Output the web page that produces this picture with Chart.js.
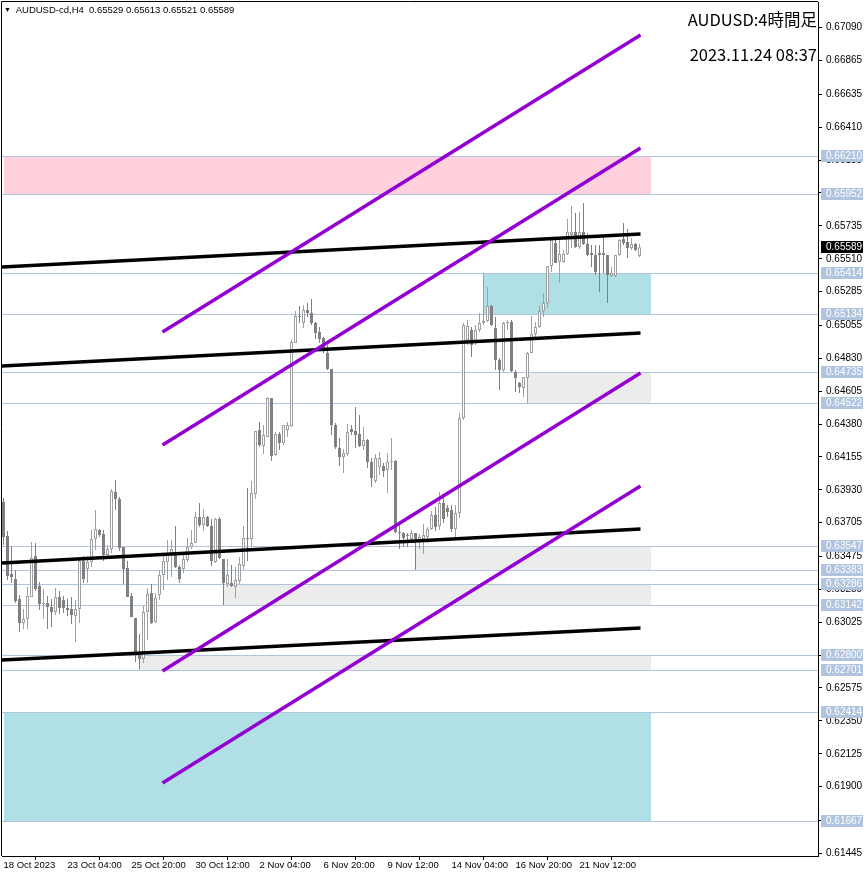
<!DOCTYPE html>
<html>
<head>
<meta charset="utf-8">
<script src="https://cdn.jsdelivr.net/npm/chart.js@4.4.0/dist/chart.umd.min.js"></script>
<style>
  body { margin: 0; background: #fff; }
  #wrap { position: relative; width: 866px; height: 876px; }
  canvas { position: absolute; left: 0; top: 0; }
  .info { position: absolute; left: 4px; top: 4px; font: 9.5px "Liberation Sans", Arial, sans-serif; color: #000; white-space: pre; line-height: 12px; }
  .info span { font-size: 7px; vertical-align: 1px; }
  .title { position: absolute; right: 49px; font: 16.5px "Noto Sans CJK JP", "Noto Sans", sans-serif; color: #000; white-space: nowrap; line-height: 20px; }
</style>
</head>
<body>
<div id="wrap">
  <canvas id="chart" width="866" height="876"></canvas>
  <div class="info"><span>▼</span>  AUDUSD-cd,H4  0.65529 0.65613 0.65521 0.65589</div>
  <div class="title" style="top:9px">AUDUSD:4時間足</div>
  <div class="title" style="top:44px">2023.11.24 08:37</div>
</div>
<script>
// H4 candles, oldest first
const opens = [
  0.63847,0.63614,0.63354,0.63320,0.63184,0.63019,0.63047,0.63197,0.63478,0.63272,
  0.63149,0.63156,0.63129,0.63095,0.63197,0.63177,0.63122,0.63115,0.63067,0.63115,
  0.63443,0.63389,0.63436,0.63594,0.63655,0.63628,0.63484,0.63525,0.63915,0.63867,
  0.63539,0.63395,0.63204,0.63054,0.62814,0.62773,0.63095,0.63225,0.63026,0.63211,
  0.63348,0.63436,0.63484,0.63484,0.63402,0.63389,0.63450,0.63539,0.63566,0.63744,
  0.63689,0.63744,0.63683,0.63436,0.63731,0.63457,0.63286,0.63293,0.63266,0.63307,
  0.63409,0.63601,0.63594,0.63901,0.64339,0.64230,0.64291,0.64558,0.64168,0.64312,
  0.64250,0.64339,0.64366,0.64934,0.65119,0.65071,0.65160,0.65139,0.65071,0.65009,
  0.64968,0.64866,0.64756,0.64373,0.64216,0.64154,0.64175,0.64346,0.64332,0.64312,
  0.64230,0.64271,0.64120,0.63990,0.64086,0.64093,0.64066,0.64120,0.64127,0.63642,
  0.63635,0.63621,0.63594,0.63635,0.63587,0.63594,0.63607,0.63662,0.63758,0.63683,
  0.63840,0.63806,0.63792,0.63662,0.63772,0.64421,0.64955,0.65023,0.64934,0.65023,
  0.65071,0.65084,0.65187,0.65037,0.64818,0.64749,0.65071,0.65078,0.64736,0.64661,
  0.64626,0.64695,0.64866,0.64996,0.65043,0.65153,0.65208,0.65461,0.65618,0.65488,
  0.65488,0.65543,0.65673,0.65693,0.65590,0.65693,0.65611,0.65549,0.65536,0.65549,
  0.65549,0.65536,0.65392,0.65392,0.65536,0.65645,0.65625,0.65584,0.65611,0.65529
];
const highs = [
  0.63874,0.63649,0.63546,0.63382,0.63211,0.63115,0.63266,0.63573,0.63566,0.63300,
  0.63252,0.63204,0.63184,0.63259,0.63238,0.63204,0.63184,0.63197,0.63177,0.63450,
  0.63478,0.63478,0.63655,0.63792,0.63662,0.63655,0.63553,0.63936,0.63997,0.63881,
  0.63539,0.63443,0.63225,0.63054,0.62944,0.63136,0.63259,0.63286,0.63225,0.63382,
  0.63491,0.63587,0.63587,0.63683,0.63416,0.63498,0.63601,0.63655,0.63778,0.63840,
  0.63799,0.63751,0.63731,0.63737,0.63744,0.63457,0.63457,0.63416,0.63402,0.63471,
  0.63683,0.63943,0.63990,0.64332,0.64394,0.64373,0.64565,0.64558,0.64325,0.64325,
  0.64373,0.64394,0.64955,0.65153,0.65187,0.65194,0.65208,0.65235,0.65078,0.65043,
  0.64975,0.64920,0.64756,0.64387,0.64284,0.64209,0.64380,0.64373,0.64496,0.64442,
  0.64360,0.64278,0.64148,0.64175,0.64189,0.64113,0.64182,0.64284,0.64134,0.63703,
  0.63642,0.63635,0.63655,0.63635,0.63628,0.63696,0.63676,0.63785,0.63813,0.63915,
  0.63881,0.63826,0.63826,0.63826,0.64455,0.65071,0.65091,0.65043,0.65057,0.65139,
  0.65414,0.65317,0.65194,0.65112,0.64831,0.65078,0.65091,0.65091,0.64749,0.64667,
  0.64701,0.64872,0.65119,0.65078,0.65187,0.65276,0.65461,0.65638,0.65638,0.65652,
  0.65570,0.65782,0.65871,0.65823,0.65830,0.65891,0.65686,0.65604,0.65604,0.65604,
  0.65672,0.65536,0.65454,0.65536,0.65645,0.65755,0.65714,0.65652,0.65618,0.65613
];
const lows = [
  0.63553,0.63313,0.63293,0.63156,0.62958,0.62978,0.62978,0.63197,0.63238,0.63108,
  0.63047,0.62978,0.62992,0.63074,0.63081,0.63088,0.63067,0.63012,0.62889,0.63019,
  0.63293,0.63293,0.63402,0.63519,0.63607,0.63443,0.63464,0.63498,0.63792,0.63512,
  0.63286,0.63197,0.63060,0.62753,0.62701,0.62746,0.62903,0.63012,0.63019,0.63177,
  0.63245,0.63313,0.63334,0.63395,0.63293,0.63361,0.63436,0.63525,0.63566,0.63676,
  0.63649,0.63676,0.63409,0.63430,0.63457,0.63142,0.63266,0.63266,0.63190,0.63286,
  0.63382,0.63443,0.63539,0.63867,0.64223,0.64175,0.64291,0.64127,0.64161,0.64202,
  0.64237,0.64291,0.64360,0.64934,0.65071,0.65037,0.65112,0.65057,0.64961,0.64934,
  0.64866,0.64749,0.64305,0.64209,0.64093,0.64045,0.64161,0.64305,0.64216,0.64223,
  0.64202,0.64079,0.63949,0.63977,0.64031,0.64018,0.63908,0.64066,0.63635,0.63525,
  0.63539,0.63539,0.63580,0.63383,0.63525,0.63491,0.63566,0.63655,0.63649,0.63655,
  0.63703,0.63744,0.63642,0.63607,0.63737,0.64407,0.64920,0.64838,0.64920,0.65009,
  0.65057,0.65078,0.65050,0.64749,0.64613,0.64736,0.65023,0.64736,0.64599,0.64592,
  0.64565,0.64522,0.64866,0.64975,0.65037,0.65112,0.65173,0.65419,0.65481,0.65344,
  0.65481,0.65536,0.65584,0.65584,0.65577,0.65604,0.65529,0.65454,0.65399,0.65283,
  0.65413,0.65208,0.65385,0.65385,0.65529,0.65604,0.65515,0.65570,0.65563,0.65521
];
const closes = [
  0.63607,0.63341,0.63334,0.63170,0.63019,0.63047,0.63204,0.63464,0.63252,0.63149,
  0.63156,0.63129,0.63095,0.63197,0.63122,0.63122,0.63108,0.63074,0.63115,0.63443,
  0.63320,0.63436,0.63594,0.63662,0.63621,0.63484,0.63525,0.63922,0.63867,0.63532,
  0.63389,0.63197,0.63060,0.62814,0.62773,0.63095,0.63218,0.63019,0.63190,0.63348,
  0.63443,0.63484,0.63525,0.63402,0.63320,0.63457,0.63539,0.63566,0.63744,0.63689,
  0.63744,0.63683,0.63443,0.63731,0.63464,0.63293,0.63348,0.63272,0.63313,0.63423,
  0.63601,0.63594,0.63908,0.64332,0.64237,0.64305,0.64558,0.64161,0.64312,0.64250,
  0.64373,0.64373,0.64941,0.65119,0.65112,0.65160,0.65139,0.65071,0.65002,0.64961,
  0.64886,0.64756,0.64373,0.64223,0.64154,0.64182,0.64325,0.64325,0.64305,0.64230,
  0.64271,0.64120,0.64011,0.64148,0.64148,0.64059,0.64120,0.64127,0.63642,0.63635,
  0.63601,0.63614,0.63635,0.63594,0.63607,0.63621,0.63662,0.63758,0.63676,0.63840,
  0.63731,0.63778,0.63662,0.63772,0.64421,0.65057,0.65050,0.64920,0.65023,0.65071,
  0.65084,0.65187,0.65057,0.64818,0.64749,0.65071,0.65078,0.64743,0.64695,0.64633,
  0.64701,0.64866,0.64996,0.65043,0.65153,0.65208,0.65461,0.65638,0.65481,0.65543,
  0.65543,0.65693,0.65693,0.65590,0.65693,0.65611,0.65536,0.65536,0.65419,0.65536,
  0.65536,0.65399,0.65413,0.65536,0.65638,0.65618,0.65584,0.65611,0.65570,0.65589
];

// time axis: one label every 16 bars
const xTickIdx = [0, 16, 32, 48, 64, 80, 96, 112, 128, 144];
const xTickLabels = ['18 Oct 2023', '23 Oct 04:00', '25 Oct 20:00', '30 Oct 12:00', '2 Nov 04:00',
  '6 Nov 20:00', '9 Nov 12:00', '14 Nov 04:00', '16 Nov 20:00', '21 Nov 12:00'];

// price axis
const yTicks = [0.67090, 0.66865, 0.66635, 0.66410, 0.66185, 0.65960, 0.65735, 0.65510, 0.65285,
  0.65055, 0.64830, 0.64605, 0.64380, 0.64155, 0.63930, 0.63705, 0.63475, 0.63250, 0.63025,
  0.62800, 0.62575, 0.62350, 0.62125, 0.61900, 0.61670, 0.61445];

// horizontal levels with price tags
const levels = [0.66210, 0.65952, 0.65414, 0.65134, 0.64735, 0.64522, 0.63547, 0.63383,
  0.63286, 0.63142, 0.62800, 0.62701, 0.62414, 0.61667];
const lastPrice = 0.65589;

// rectangles (bar index from/to, price low/high)
const zoneFrom = [0, 120, 131, 103, 55, 34, 0];
const zoneTo   = [161.75, 161.75, 161.75, 161.75, 161.75, 161.75, 161.75];
const zoneLow  = [0.65952, 0.65134, 0.64522, 0.63383, 0.63142, 0.62701, 0.61667];
const zoneHigh = [0.66210, 0.65414, 0.64735, 0.63547, 0.63286, 0.62800, 0.62414];
const zoneKind = ['pink', 'cyan', 'gray', 'gray', 'gray', 'gray', 'cyan'];

// channel lines (purple) and trend lines (black)
const purpleFrom = 39.75, purpleTo = 159.25;
const purpleStart = [0.65009, 0.64237, 0.62691, 0.61926];
const purpleEnd   = [0.67040, 0.66267, 0.64729, 0.63956];
const blackFrom = -0.375, blackTo = 159.25;
const blackStart = [0.65454, 0.64777, 0.63430, 0.62767];
const blackEnd   = [0.65679, 0.65002, 0.63662, 0.62985];

const UP_LINE = '#a0a0a0';
const DOWN_FILL = '#808080';
const LEVEL_COLOR = '#b0c4de';
const zoneColors = { pink: '#ffd1dc', cyan: '#b0e0e6', gray: '#ececec' };
const FONT = '"Liberation Sans", Arial, sans-serif';

const isUp = i => closes[i] >= opens[i];

const trendSets = [];
purpleStart.forEach((v, k) => trendSets.push({
  type: 'line', data: [{ x: purpleFrom, y: v }, { x: purpleTo, y: purpleEnd[k] }],
  borderColor: '#9400d3', borderWidth: 3.5, pointRadius: 0, fill: false, order: 0
}));
blackStart.forEach((v, k) => trendSets.push({
  type: 'line', data: [{ x: blackFrom, y: v }, { x: blackTo, y: blackEnd[k] }],
  borderColor: '#000', borderWidth: 3.5, pointRadius: 0, fill: false, order: 0
}));

const overlay = {
  id: 'overlay',
  beforeDatasetsDraw(chart) {
    const { ctx, chartArea: a, scales: { x, y } } = chart;
    ctx.save();
    ctx.beginPath();
    ctx.rect(a.left, a.top, a.right - a.left, a.bottom - a.top);
    ctx.clip();
    zoneHigh.forEach((hi, k) => {
      const x0 = Math.round(x.getPixelForValue(zoneFrom[k]));
      const x1 = Math.round(x.getPixelForValue(zoneTo[k]));
      const y0 = Math.round(y.getPixelForValue(hi));
      const y1 = Math.round(y.getPixelForValue(zoneLow[k]));
      ctx.fillStyle = zoneColors[zoneKind[k]];
      ctx.fillRect(x0, y0, x1 - x0, y1 - y0);
    });
    ctx.strokeStyle = LEVEL_COLOR;
    ctx.lineWidth = 1;
    levels.forEach(v => {
      const py = Math.round(y.getPixelForValue(v)) + 0.5;
      ctx.beginPath();
      ctx.moveTo(a.left, py);
      ctx.lineTo(a.right, py);
      ctx.stroke();
    });
    ctx.restore();
  },
  afterDraw(chart) {
    const { ctx, chartArea: a, scales: { y } } = chart;
    ctx.save();
    ctx.font = '10px ' + FONT;
    ctx.textBaseline = 'middle';
    ctx.textAlign = 'left';
    const tag = (v, bg) => {
      const py = Math.round(y.getPixelForValue(v));
      ctx.fillStyle = bg;
      ctx.fillRect(a.right + 3, py - 6, 42, 12);
      ctx.fillStyle = '#fff';
      ctx.fillText(v.toFixed(5), a.right + 8, py + 0.5);
    };
    levels.forEach(v => tag(v, LEVEL_COLOR));
    tag(lastPrice, '#000');
    // left and top frame
    ctx.strokeStyle = '#000';
    ctx.lineWidth = 1;
    ctx.beginPath();
    ctx.moveTo(a.left - 0.5, a.bottom);
    ctx.lineTo(a.left - 0.5, a.top - 0.5);
    ctx.lineTo(a.right, a.top - 0.5);
    ctx.stroke();
    ctx.restore();
  }
};

const ctx = document.getElementById('chart').getContext('2d');
const chart = new Chart(ctx, {
  type: 'bar',
  data: {
    datasets: [
      {
        label: 'wick',
        data: opens.map((o, i) => ({ x: i, y: [lows[i], highs[i]] })),
        barThickness: 1,
        grouped: false,
        inflateAmount: 0,
        borderWidth: 0,
        backgroundColor: c => isUp(c.dataIndex) ? UP_LINE : DOWN_FILL,
        order: 3
      },
      {
        label: 'body',
        data: opens.map((o, i) => ({ x: i, y: [o, closes[i]] })),
        barThickness: 3,
        grouped: false,
        inflateAmount: 0,
        minBarLength: 1,
        borderWidth: 1,
        borderSkipped: false,
        backgroundColor: c => isUp(c.dataIndex) ? '#fff' : DOWN_FILL,
        borderColor: c => isUp(c.dataIndex) ? UP_LINE : DOWN_FILL,
        order: 2
      },
      ...trendSets
    ]
  },
  options: {
    responsive: false,
    devicePixelRatio: 1,
    animation: false,
    layout: { padding: { left: 2, top: 2, right: 0, bottom: 0 } },
    plugins: { legend: { display: false }, tooltip: { enabled: false } },
    scales: {
      x: {
        type: 'linear',
        min: -0.375,
        max: 203.625,
        offset: false,
        afterBuildTicks: s => { s.ticks = xTickIdx.map(v => ({ value: v })); },
        afterFit: s => { s.height = 20; s.paddingLeft = 0; s.paddingRight = 0; },
        grid: { drawOnChartArea: false, tickLength: 4, color: '#000' },
        border: { color: '#000' },
        ticks: {
          autoSkip: false, maxRotation: 0, align: 'start', padding: 0, color: '#000',
          font: { family: FONT, size: 9.5 },
          callback: (v, i) => xTickLabels[i]
        }
      },
      y: {
        type: 'linear',
        position: 'right',
        min: 0.614261,
        max: 0.672657,
        afterBuildTicks: s => { s.ticks = yTicks.map(v => ({ value: v })); },
        afterFit: s => { s.width = 48; s.paddingTop = 0; s.paddingBottom = 0; },
        grid: { drawOnChartArea: false, tickLength: 4, color: '#000' },
        border: { color: '#000' },
        ticks: {
          autoSkip: false, crossAlign: 'near', padding: 4, color: '#000',
          font: { family: FONT, size: 10 },
          callback: v => v.toFixed(5)
        }
      }
    }
  },
  plugins: [overlay]
});
</script>
</body>
</html>
